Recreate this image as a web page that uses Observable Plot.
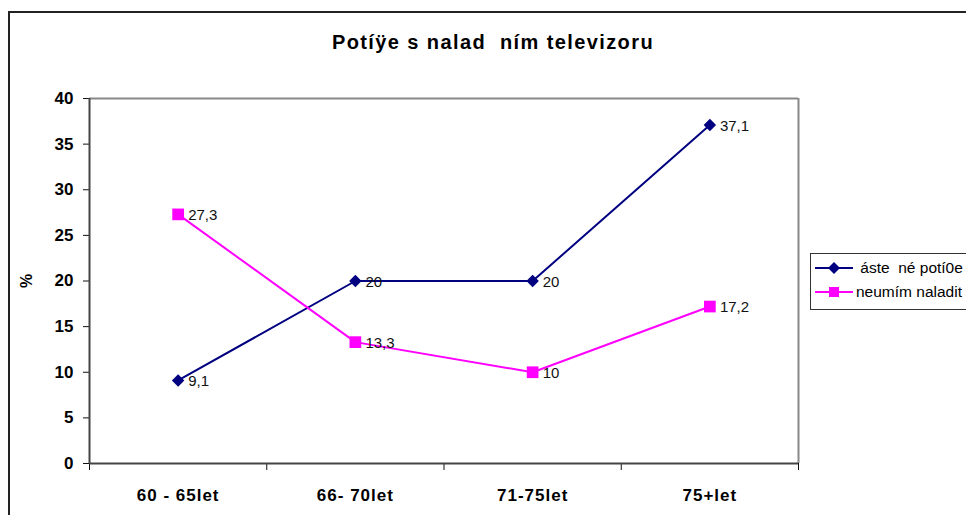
<!DOCTYPE html>
<html>
<head>
<meta charset="utf-8">
<script src="https://cdn.jsdelivr.net/npm/d3@7"></script>
<script src="https://cdn.jsdelivr.net/npm/@observablehq/plot@0.6"></script>
<style>
  html, body { margin: 0; padding: 0; background: #fff; }
  body { font-family: Arial, "Liberation Sans", sans-serif; }
  #wrap { position: relative; width: 966px; height: 515px; overflow: hidden; }
  #outer { position: absolute; left: 8px; top: 11px; width: 1000px; height: 600px;
           border-left: 2px solid #222; border-top: 2px solid #222; }
  #title { position: absolute; left: 0; width: 986px; top: 31px; text-align: center;
           font-weight: bold; font-size: 20px; letter-spacing: 1.4px; white-space: pre; color: #000; }
  #ylab { position: absolute; left: 27px; top: 281px; font-weight: bold; font-size: 16px;
          transform: translate(-50%, -50%) rotate(-90deg); color: #000; }
  #chart { position: absolute; left: 0; top: 0; }
  #legend { position: absolute; left: 810px; top: 253px; width: 170px; height: 55px;
            border: 1px solid #333; background: #fff; font-size: 15.5px; }
  .item { position: absolute; left: 0; height: 20px; display: flex; align-items: center; white-space: pre; }
  .item svg { margin-left: 4px; margin-right: 3px; }
</style>
</head>
<body>
<div id="wrap">
  <div id="outer"></div>
  <div id="title"></div>
  <div id="chart"></div>
  <div id="ylab">%</div>
  <div id="legend"></div>
</div>
<script>
const titleText = "Potíÿe s nalad  ním televizoru";
const yLabel = "%";
const categories = ["60 - 65let", "66- 70let", "71-75let", "75+let"];
const seriesNames = ["\u00a0áste  né potí0e", "neumím naladit"];
const seriesA = [9.1, 20, 20, 37.1];
const seriesB = [27.3, 13.3, 10, 17.2];
const seriesColors = ["#000080", "#FF00FF"];
const yTicks = [0, 5, 10, 15, 20, 25, 30, 35, 40];

document.getElementById("title").textContent = titleText;
document.getElementById("ylab").textContent = yLabel;

const fmt = v => String(v).replace(".", ",");
const rows = [];
[seriesA, seriesB].forEach((vals, s) => {
  vals.forEach((v, i) => rows.push({series: seriesNames[s], s, i, x: i + 0.5, y: v, label: fmt(v)}));
});

const chart = Plot.plot({
  width: 966,
  height: 515,
  marginLeft: 89,
  marginTop: 98,
  marginRight: 168,
  marginBottom: 52,
  style: {fontFamily: "Arial, 'Liberation Sans', sans-serif", background: "transparent", overflow: "visible"},
  x: {domain: [0, categories.length], axis: null},
  y: {domain: [0, 40], axis: null},
  marks: [
    Plot.ruleY([40], {stroke: "#888", strokeWidth: 2}),
    Plot.ruleX([categories.length], {stroke: "#888", strokeWidth: 2}),
    Plot.axisX({ticks: d3.range(categories.length + 1), tickFormat: () => "", tickSize: 7, stroke: "#111", label: null}),
    Plot.axisX({ticks: categories.map((c, i) => i + 0.5), tickFormat: v => categories[Math.round(v - 0.5)],
                tickSize: 0, tickPadding: 25, fontSize: 17, fontWeight: "bold", fill: "#000", label: null}),
    Plot.ruleY([0], {stroke: "#444", strokeWidth: 2}),
    Plot.axisY({ticks: yTicks, tickSize: 6, tickPadding: 10, fontSize: 17, fontWeight: "bold", stroke: "#111", fill: "#000", label: null}),
    Plot.ruleX([0], {stroke: "#444", strokeWidth: 2}),
    Plot.line(rows, {x: "x", y: "y", z: "series", stroke: d => seriesColors[d.s], strokeWidth: 2}),
    Plot.dot(rows.filter(d => d.s === 0), {x: "x", y: "y", symbol: "diamond2", r: 5.6, fill: seriesColors[0], stroke: "none"}),
    Plot.dot(rows.filter(d => d.s === 1), {x: "x", y: "y", symbol: "square", r: 6.6, fill: seriesColors[1], stroke: "none"}),
    Plot.text(rows, {x: "x", y: "y", text: "label", dx: 10, dy: 1, textAnchor: "start", fontSize: 15, fill: "#111"})
  ]
});
d3.select(chart).selectAll('g[aria-label="x-axis tick label"] text').style("letter-spacing", "1px");
document.getElementById("chart").appendChild(chart);

const legend = document.getElementById("legend");
seriesNames.forEach((name, s) => {
  const item = document.createElement("div");
  item.className = "item";
  item.style.top = (4 + s * 24) + "px";
  const sw = d3.create("svg").attr("width", 38).attr("height", 14);
  sw.append("line").attr("x1", 0).attr("x2", 38).attr("y1", 7).attr("y2", 7)
    .attr("stroke", seriesColors[s]).attr("stroke-width", 2);
  if (s === 0) {
    sw.append("path").attr("d", "M19,1L25,7L19,13L13,7Z").attr("fill", seriesColors[s]);
  } else {
    sw.append("rect").attr("x", 14).attr("y", 2).attr("width", 10).attr("height", 10).attr("fill", seriesColors[s]);
  }
  item.appendChild(sw.node());
  const t = document.createElement("span");
  t.textContent = name;
  item.appendChild(t);
  legend.appendChild(item);
});
</script>
</body>
</html>
